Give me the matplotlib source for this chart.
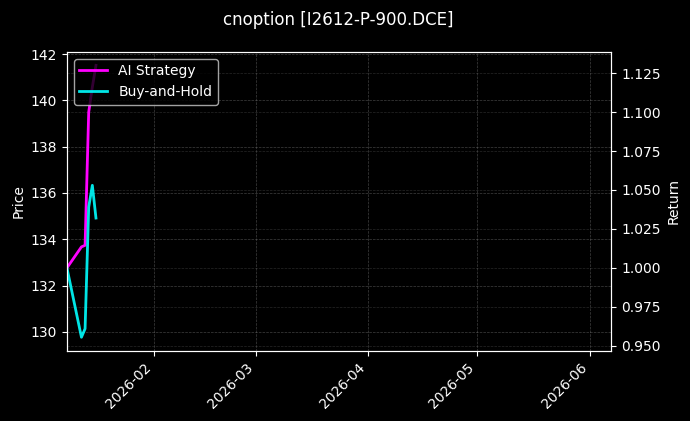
import matplotlib
matplotlib.use('Agg')
import matplotlib.pyplot as plt
import matplotlib.dates as mdates
import numpy as np
import pandas as pd

# daten
dates = pd.to_datetime(["2026-01-08", "2026-01-12", "2026-01-13",
                        "2026-01-14", "2026-01-15", "2026-01-16"])
ai_return = [1.000, 1.0135, 1.0145, 1.100, 1.116, 1.130]
bh_return = [1.000, 0.9555, 0.961, 1.039, 1.053, 1.032]

price_lim = (129.17, 142.1)
return_lim = (0.9466, 1.1387)
x_lim = pd.to_datetime(["2026-01-08", "2026-06-07"])

plt.style.use('dark_background')
fig, ax1 = plt.subplots(figsize=(6.9, 4.21), dpi=100)
fig.patch.set_facecolor('black')
ax1.set_facecolor('black')
fig.subplots_adjust(left=0.097, right=0.886, top=0.877, bottom=0.166)

ax1.set_ylabel("Price")
ax1.set_ylim(*price_lim)
ax1.set_xlim(x_lim[0], x_lim[1])
ax1.grid(True, linestyle='--', linewidth=0.5, color='gray', alpha=0.5)

ax2 = ax1.twinx()
ax2.plot(dates, ai_return, color='#ff00ff', linewidth=2, label="AI Strategy")
ax2.plot(dates, bh_return, color='#00ffff', linewidth=2, label="Buy-and-Hold", alpha=0.9)
ax2.set_ylabel("Return")
ax2.set_ylim(*return_lim)
ax2.set_yticks(np.arange(0.95, 1.126, 0.025))
ax2.grid(True, linestyle='--', linewidth=0.5, color='gray', alpha=0.3)

ax1.xaxis.set_major_locator(mdates.MonthLocator())
ax1.xaxis.set_major_formatter(mdates.DateFormatter('%Y-%m'))
plt.setp(ax1.get_xticklabels(), rotation=45, ha='right')

ax2.legend(loc='upper left')
fig.suptitle("cnoption [I2612-P-900.DCE]", x=0.49, y=0.975, fontsize=12)

plt.savefig("out.png", dpi=100, facecolor='black')
plt.close()
